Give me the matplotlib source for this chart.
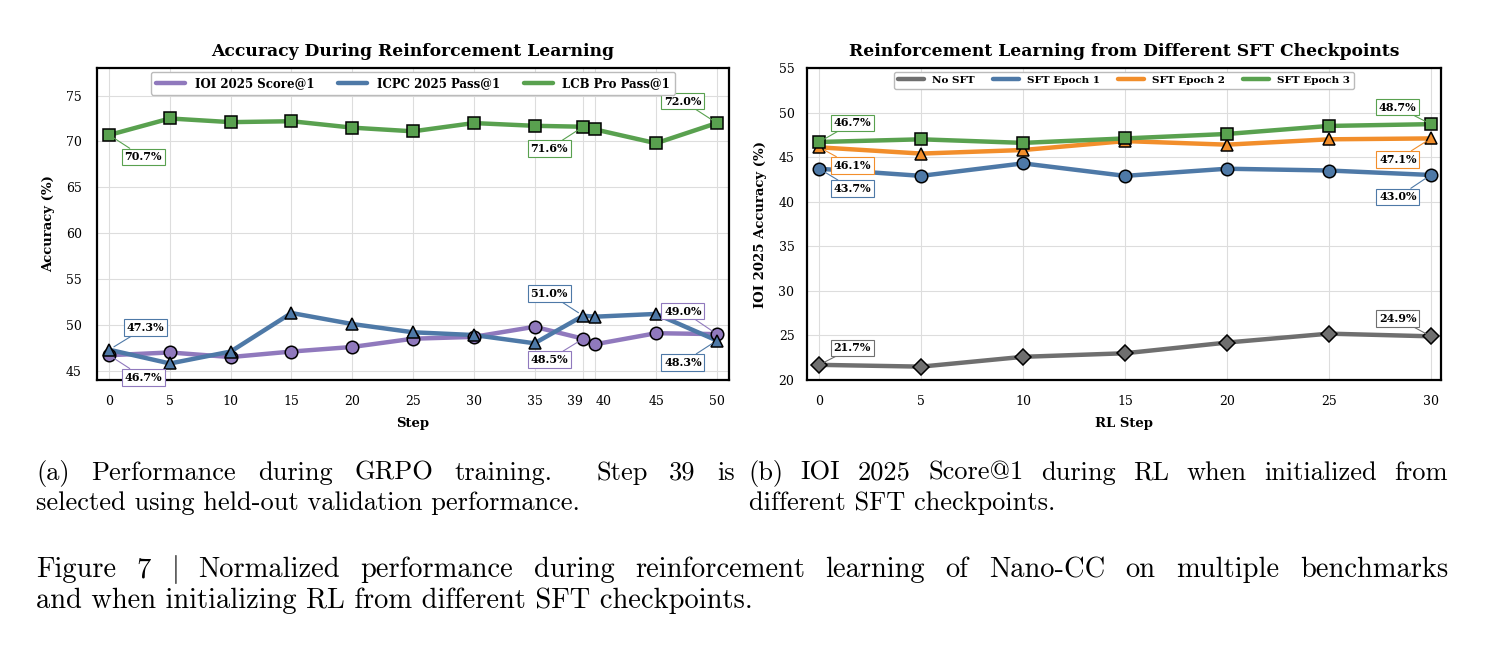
import matplotlib
matplotlib.use("Agg")
import matplotlib.pyplot as plt

plt.rcParams['font.family'] = ['DejaVu Serif']
plt.rcParams['mathtext.fontset'] = 'cm'

# ---- data, panel (a)
steps = [0, 5, 10, 15, 20, 25, 30, 35, 39, 40, 45, 50]
ioi = [46.7, 47.0, 46.5, 47.1, 47.6, 48.5, 48.7, 49.8, 48.5, 47.9, 49.1, 49.0]
icpc = [47.3, 45.8, 47.1, 51.3, 50.1, 49.2, 48.9, 48.0, 51.0, 50.9, 51.2, 48.3]
lcb = [70.7, 72.5, 72.1, 72.2, 71.5, 71.1, 72.0, 71.7, 71.6, 71.3, 69.8, 72.0]
names_a = ['IOI 2025 Score@1', 'ICPC 2025 Pass@1', 'LCB Pro Pass@1']

# ---- data, panel (b)
rl_steps = [0, 5, 10, 15, 20, 25, 30]
no_sft = [21.7, 21.5, 22.6, 23.0, 24.2, 25.2, 24.9]
sft1 = [43.7, 42.9, 44.3, 42.9, 43.7, 43.5, 43.0]
sft2 = [46.1, 45.4, 45.8, 46.8, 46.4, 47.0, 47.1]
sft3 = [46.7, 47.0, 46.6, 47.1, 47.6, 48.5, 48.7]
names_b = ['No SFT', 'SFT Epoch 1', 'SFT Epoch 2', 'SFT Epoch 3']

purple = '#9079bd'
blue = '#4e79a7'
green = '#59a14f'
orange = '#f28e2b'
gray = '#6f6f6f'

W, H = 1485, 647
fig = plt.figure(figsize=(W / 100, H / 100), dpi=100)
ax1 = fig.add_axes([97 / W, 1 - 380 / H, 632 / W, 312 / H])
ax2 = fig.add_axes([807 / W, 1 - 380 / H, 634 / W, 312 / H])


def series(ax, x, y, color, marker, label, ms=9):
    ax.plot(x, y, color=color, lw=3.2, label=label, zorder=2, solid_capstyle='round')
    ax.plot(x, y, ls='none', marker=marker, ms=ms, mfc=color, mec='black', mew=1.1, zorder=3)


def note(ax, x, y, color, dx, dy):
    ax.annotate(f'{y:.1f}%', xy=(x, y), xytext=(dx, dy), textcoords='offset pixels',
                ha='center', va='center', fontsize=8, fontweight='bold',
                bbox=dict(boxstyle='square,pad=0.25', fc='white', ec=color, lw=0.8),
                arrowprops=dict(arrowstyle='-', color=color, lw=0.8, shrinkA=0, shrinkB=4),
                zorder=5)


def style(ax):
    ax.grid(True, color='#dddddd', lw=0.8, zorder=0)
    ax.set_axisbelow(True)
    for s in ax.spines.values():
        s.set_linewidth(1.6)
        s.set_color('black')
    ax.tick_params(length=0, labelsize=9, pad=11)


# panel (a)
series(ax1, steps, ioi, purple, 'o', names_a[0])
series(ax1, steps, icpc, blue, '^', names_a[1])
series(ax1, steps, lcb, green, 's', names_a[2])
ax1.set_xlim(-1, 51)
ax1.set_ylim(44, 78)
ax1.set_xticks(steps)
ax1.set_yticks([45, 50, 55, 60, 65, 70, 75])
style(ax1)
# keep the close ticks 39 and 40 apart
ticks = ax1.xaxis.get_major_ticks()
ticks[steps.index(39)].label1.set_horizontalalignment('right')
ticks[steps.index(40)].label1.set_horizontalalignment('left')
ax1.set_title('Accuracy During Reinforcement Learning', fontsize=12.3, fontweight='bold', pad=9)
ax1.set_xlabel('Step', fontsize=9.5, fontweight='bold', labelpad=6)
ax1.set_ylabel('Accuracy (%)', fontsize=9.5, fontweight='bold', labelpad=8)
ax1.legend(loc='upper center', ncol=3, prop={'weight': 'bold', 'size': 8.5},
           handlelength=2.5, columnspacing=2.0, borderaxespad=0.35, framealpha=1,
           edgecolor='#bbbbbb', fancybox=True)

i39 = steps.index(39)
note(ax1, 0, lcb[0], green, 34, -22)
note(ax1, 39, lcb[i39], green, -34, -22)
note(ax1, 50, lcb[-1], green, -34, 22)
note(ax1, 0, icpc[0], blue, 36, 22)
note(ax1, 39, icpc[i39], blue, -34, 22)
note(ax1, 50, icpc[-1], blue, -34, -22)
note(ax1, 0, ioi[0], purple, 34, -22)
note(ax1, 39, ioi[i39], purple, -34, -21)
note(ax1, 50, ioi[-1], purple, -34, 23)

# panel (b)
series(ax2, rl_steps, no_sft, gray, 'D', names_b[0], ms=8.5)
series(ax2, rl_steps, sft1, blue, 'o', names_b[1])
series(ax2, rl_steps, sft2, orange, '^', names_b[2])
series(ax2, rl_steps, sft3, green, 's', names_b[3])
ax2.set_xlim(-0.6, 30.5)
ax2.set_ylim(20, 55)
ax2.set_xticks(rl_steps)
ax2.set_yticks([20, 25, 30, 35, 40, 45, 50, 55])
style(ax2)
ax2.tick_params(axis='y', pad=9)
ax2.set_title('Reinforcement Learning from Different SFT Checkpoints', fontsize=12.3,
              fontweight='bold', pad=9)
ax2.set_xlabel('RL Step', fontsize=9.5, fontweight='bold', labelpad=6)
ax2.set_ylabel('IOI 2025 Accuracy (%)', fontsize=9.5, fontweight='bold', labelpad=8)
ax2.legend(loc='upper center', ncol=4, prop={'weight': 'bold', 'size': 7.5},
           handlelength=2.5, columnspacing=1.7, borderaxespad=0.35, framealpha=1,
           edgecolor='#bbbbbb', fancybox=True)

for ys, c, d0, d1 in [(sft3, green, 19, 17), (sft2, orange, -18, -21),
                      (sft1, blue, -20, -22), (no_sft, gray, 17, 18)]:
    note(ax2, 0, ys[0], c, 33, d0)
    note(ax2, 30, ys[-1], c, -33, d1)

# ---- captions
renderer = fig.canvas.get_renderer()


def line(text, x0, y, size, x1=None):
    if x1 is None:
        fig.text(x0 / W, 1 - y / H, text, fontsize=size, family='cmr10', va='baseline')
        return
    ts = [fig.text(0, 1 - y / H, w, fontsize=size, family='cmr10', va='baseline')
          for w in text.split(' ')]
    widths = [t.get_window_extent(renderer).width for t in ts]
    gap = (x1 - x0 - sum(widths)) / (len(ts) - 1)
    x = x0
    for t, w in zip(ts, widths):
        t.set_x(x / W)
        x += w + gap


sub = 19
cap = 20.5
line('(a) Performance during GRPO training.  Step 39 is', 36, 480, sub, 735)
line('selected using held-out validation performance.', 36, 510, sub)
line('(b) IOI 2025 Score@1 during RL when initialized from', 748, 480, sub, 1448)
line('different SFT checkpoints.', 749, 510, sub)
line('Figure 7 $|$ Normalized performance during reinforcement learning of Nano-CC on multiple benchmarks',
     36, 577, cap, 1448)
line('and when initializing RL from different SFT checkpoints.', 36, 608, cap)

fig.savefig('out.png', dpi=100)
